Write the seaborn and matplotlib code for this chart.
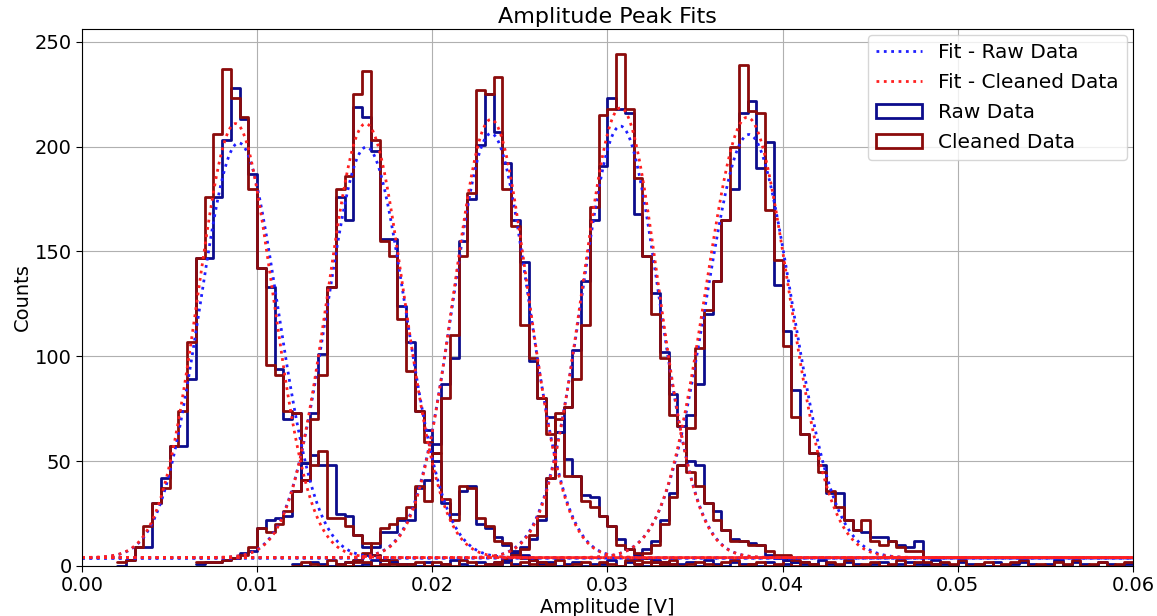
import numpy as np
import pandas as pd
import matplotlib
matplotlib.use("Agg")
import matplotlib.pyplot as plt
from matplotlib.lines import Line2D
from matplotlib.patches import Patch
import seaborn as sns

# ---- histogram data: counts per 0.5 mV bin, each channel given from its first bin ----
BIN_WIDTH = 0.0005

ch1_start = 4
ch1_raw = [0, 3, 9, 9, 30, 42, 57, 57, 89, 147, 147, 176, 203, 228, 213, 187, 142, 133, 94, 70,
           73, 49, 53, 48, 48, 25, 24, 15, 9, 5, 3, 2, 1]
ch1_clean = [2, 3, 9, 19, 30, 37, 57, 74, 107, 147, 176, 206, 237, 223, 214, 180, 142, 96, 91, 74,
             73, 41, 48, 55, 23, 23, 19, 15, 11, 5, 3, 1, 1]

ch2_start = 13
ch2_raw = [1, 2, 2, 3, 4, 6, 7, 18, 22, 23, 24, 36, 49, 73, 101, 133, 176, 165, 219, 214,
           198, 156, 156, 124, 107, 74, 65, 50, 30, 25, 36, 38, 20, 18, 14, 10, 7, 5, 3, 2, 1]
ch2_clean = [2, 2, 2, 3, 4, 5, 9, 18, 16, 20, 26, 36, 41, 70, 91, 133, 180, 186, 225, 236,
             203, 155, 148, 118, 93, 74, 59, 54, 32, 22, 38, 37, 23, 19, 12, 11, 6, 4, 3, 2, 1]

ch3_start = 30
ch3_raw = [2, 3, 5, 9, 16, 16, 22, 22, 37, 41, 58, 87, 99, 155, 175, 201, 225, 207, 192, 165,
           145, 98, 80, 71, 64, 51, 43, 34, 33, 24, 19, 13, 8, 5, 4, 3, 2, 1]
ch3_clean = [2, 3, 6, 11, 18, 20, 23, 28, 38, 31, 54, 80, 110, 148, 178, 227, 225, 233, 180, 162,
             115, 99, 80, 63, 70, 43, 43, 31, 28, 24, 19, 10, 8, 6, 4, 2, 2, 1]

ch4_start = 47
ch4_raw = [2, 3, 6, 9, 13, 22, 42, 64, 76, 103, 136, 165, 191, 223, 218, 216, 168, 148, 130, 102,
           82, 67, 50, 48, 30, 26, 17, 13, 12, 11, 10, 5, 4, 3, 2, 2, 1]
ch4_clean = [2, 4, 5, 8, 15, 24, 42, 73, 76, 89, 115, 171, 215, 218, 244, 218, 185, 148, 120, 99,
             72, 67, 45, 38, 30, 22, 17, 12, 12, 10, 10, 7, 5, 5, 3, 2, 1]

ch5_start = 63
ch5_raw = [4, 8, 12, 22, 35, 48, 72, 87, 120, 136, 165, 180, 216, 222, 190, 202, 134, 112, 84, 63,
           54, 48, 35, 35, 22, 17, 16, 14, 14, 12, 10, 9, 12, 1, 1]
ch5_clean = [3, 6, 10, 20, 33, 48, 66, 104, 122, 136, 165, 200, 239, 217, 216, 170, 146, 105, 71, 63,
             54, 45, 36, 28, 22, 17, 22, 12, 10, 12, 9, 7, 7, 2, 1]

# low-level counts spread over the rest of the range
floor_start = 24
raw_floor = [1, 0, 2, 1, 0, 1, 2, 0, 1, 3, 0, 2, 1, 1, 0, 2, 0, 1, 3, 1, 0, 2, 1, 0, 2, 1, 0, 3, 1, 2,
             0, 1, 2, 0, 1, 1, 3, 0, 2, 1, 0, 2, 1, 0, 1, 2, 0, 3, 1, 0, 2, 1, 1, 0, 2, 0, 1, 2, 1, 0,
             3, 1, 0, 2, 1, 0, 1, 2, 0, 1, 2, 1, 0, 3, 1, 0, 2, 1, 1, 0, 2, 0, 1, 2, 1, 0, 1, 3, 0, 2,
             1, 0, 2, 1, 0, 1]
clean_floor = [0, 2, 1, 0, 3, 1, 0, 2, 2, 0, 1, 3, 0, 1, 2, 0, 2, 1, 0, 3, 2, 0, 1, 1, 3, 0, 2, 1, 0, 1,
               3, 0, 1, 2, 0, 2, 1, 0, 3, 1, 2, 0, 1, 3, 0, 1, 2, 1, 0, 2, 3, 0, 1, 2, 0, 1, 3, 0, 2, 1,
               0, 2, 1, 3, 0, 1, 2, 0, 1, 3, 0, 2, 1, 0, 2, 1, 3, 0, 1, 2, 0, 1, 2, 3, 0, 1, 0, 2, 1, 3,
               0, 1, 2, 0, 1, 2]

# ---- Gaussian + offset fit parameters: amplitude, mean [V], sigma [V], offset ----
fit_raw_amp = [198, 196, 202.5, 206, 202]
fit_raw_mu = [0.00895, 0.01623, 0.02335, 0.03074, 0.03808]
fit_raw_sigma = [0.00222, 0.00224, 0.00216, 0.00220, 0.00245]
fit_raw_offset = [3.8, 3.8, 3.8, 3.8, 3.8]

fit_clean_amp = [207, 207, 209, 214.5, 210]
fit_clean_mu = [0.00876, 0.01620, 0.02335, 0.03075, 0.03798]
fit_clean_sigma = [0.00214, 0.00218, 0.00212, 0.00216, 0.00238]
fit_clean_offset = [4.0, 4.0, 4.0, 4.0, 4.0]

RAW_COLOR = "#0c0c8c"
CLEAN_COLOR = "#8b0b0b"
RAW_FIT_COLOR = "#1f1fff"
CLEAN_FIT_COLOR = "#ff2020"

sns.set_style("ticks", {"axes.grid": True, "grid.color": "#b0b0b0", "grid.linewidth": 0.8,
                        "axes.edgecolor": "black"})
plt.rcParams["font.family"] = ["DejaVu Sans"]
plt.rcParams.update({"text.color": "black", "axes.labelcolor": "black",
                     "xtick.color": "black", "ytick.color": "black"})

fig = plt.figure(figsize=(11.57, 6.16), dpi=100)
ax = fig.add_axes([0.0709, 0.0812, 0.9082, 0.872])


def draw_hist(start, counts, color):
    counts = np.asarray(counts, dtype=float)
    centers = (start + np.arange(len(counts)) + 0.5) * BIN_WIDTH
    df = pd.DataFrame({"amp": centers, "n": counts})
    lo = start * BIN_WIDTH
    hi = (start + len(counts)) * BIN_WIDTH
    sns.histplot(data=df, x="amp", weights="n", binwidth=BIN_WIDTH, binrange=(lo, hi),
                 element="step", fill=False, color=color, linewidth=2, ax=ax)


channels = [
    (ch1_start, ch1_raw, ch1_clean),
    (ch2_start, ch2_raw, ch2_clean),
    (ch3_start, ch3_raw, ch3_clean),
    (ch4_start, ch4_raw, ch4_clean),
    (ch5_start, ch5_raw, ch5_clean),
]

draw_hist(floor_start, raw_floor, RAW_COLOR)
draw_hist(floor_start, clean_floor, CLEAN_COLOR)
for start, raw, clean in channels:
    draw_hist(start, raw, RAW_COLOR)
    draw_hist(start, clean, CLEAN_COLOR)

xs = np.linspace(0, 0.06, 1200)
for a, m, s, c in zip(fit_raw_amp, fit_raw_mu, fit_raw_sigma, fit_raw_offset):
    sns.lineplot(x=xs, y=a * np.exp(-(xs - m) ** 2 / (2 * s ** 2)) + c, ax=ax,
                 color=RAW_FIT_COLOR, linestyle=":", linewidth=2)
for a, m, s, c in zip(fit_clean_amp, fit_clean_mu, fit_clean_sigma, fit_clean_offset):
    sns.lineplot(x=xs, y=a * np.exp(-(xs - m) ** 2 / (2 * s ** 2)) + c, ax=ax,
                 color=CLEAN_FIT_COLOR, linestyle=":", linewidth=2)

ymax = max(max(ch1_clean), max(ch2_clean), max(ch3_clean), max(ch4_clean), max(ch5_clean),
           max(ch1_raw), max(ch2_raw), max(ch3_raw), max(ch4_raw), max(ch5_raw))
ax.set_xlim(0, 0.06)
ax.set_ylim(0, ymax * 1.05)
ticks = np.arange(0, 0.0601, 0.01)
ax.set_xticks(ticks)
ax.set_xticklabels([f"{v:.2f}" for v in ticks])
ax.set_yticks([0, 50, 100, 150, 200, 250])
ax.tick_params(labelsize=14, length=4, color="black")
ax.set_xlabel("Amplitude [V]", fontsize=14, labelpad=2)
ax.set_ylabel("Counts", fontsize=14, labelpad=2)
ax.set_title("Amplitude Peak Fits", fontsize=16, pad=4)
ax.grid(True, color="#b0b0b0", linewidth=0.8)
ax.set_axisbelow(True)

handles = [
    Line2D([], [], color=RAW_FIT_COLOR, linestyle=":", linewidth=2),
    Line2D([], [], color=CLEAN_FIT_COLOR, linestyle=":", linewidth=2),
    Patch(facecolor="none", edgecolor=RAW_COLOR, linewidth=2),
    Patch(facecolor="none", edgecolor=CLEAN_COLOR, linewidth=2),
]
labels = ["Fit - Raw Data", "Fit - Cleaned Data", "Raw Data", "Cleaned Data"]
ax.legend(handles, labels, loc="upper right", fontsize=14.5, frameon=True, framealpha=0.8,
          borderaxespad=0.3, handlelength=2.3, labelspacing=0.55)

fig.savefig("out.png", dpi=100)
